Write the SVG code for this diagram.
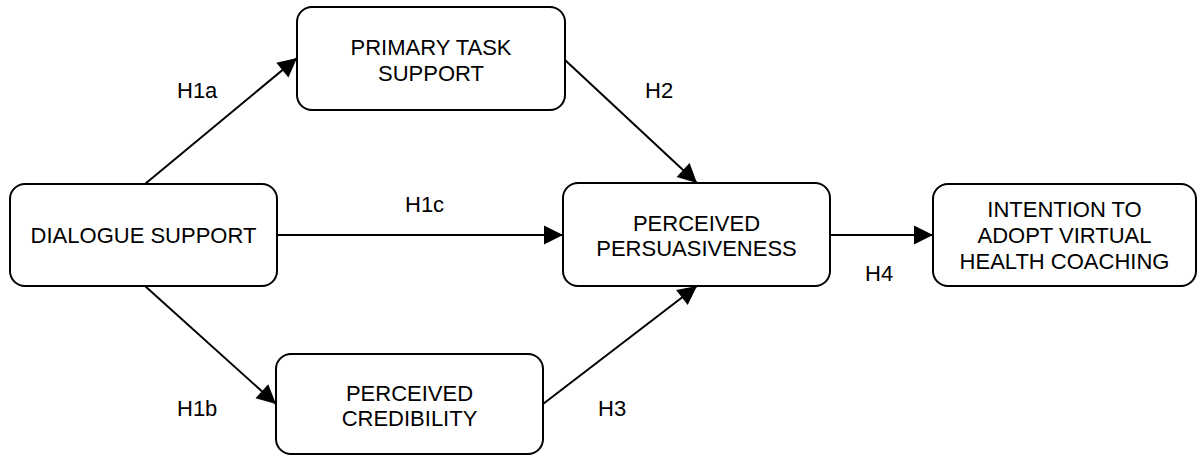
<svg xmlns="http://www.w3.org/2000/svg" width="1197" height="455" viewBox="0 0 1197 455">
<style>
.box{fill:#fff;stroke:#000;stroke-width:2}
.t{font-family:"Liberation Sans",Arial,sans-serif;font-size:22px;fill:#000}
.c{text-anchor:middle}
.e{fill:none;stroke:#000;stroke-width:2}
</style>
<defs>
<marker id="ah" markerUnits="userSpaceOnUse" markerWidth="22" markerHeight="22" viewBox="-20 -10 22 20" refX="0" refY="0" orient="auto">
<path d="M0,0 L-19,-9.5 L-19,9.5 Z" fill="#000"/>
</marker>
</defs>
<rect width="1197" height="455" fill="#fff"/>
<g id="connectors">
<line class="e" x1="145" y1="184" x2="297" y2="58" marker-end="url(#ah)"/>
<line class="e" x1="565" y1="60" x2="697" y2="183" marker-end="url(#ah)"/>
<line class="e" x1="277" y1="235" x2="563" y2="235" marker-end="url(#ah)"/>
<line class="e" x1="145" y1="286" x2="276" y2="404" marker-end="url(#ah)"/>
<line class="e" x1="543" y1="404" x2="697" y2="286" marker-end="url(#ah)"/>
<line class="e" x1="830" y1="235" x2="933" y2="235" marker-end="url(#ah)"/>
<text class="t" x="177" y="98">H1a</text>
<text class="t" x="177" y="416">H1b</text>
<text class="t" x="405" y="212">H1c</text>
<text class="t" x="645" y="98">H2</text>
<text class="t" x="598" y="416">H3</text>
<text class="t" x="865" y="281">H4</text>
</g>
<g id="dialogue">
<rect class="box" x="10" y="184" width="267" height="102" rx="15"/>
<text class="t c" x="143.5" y="243">DIALOGUE SUPPORT</text>
</g>
<g id="primary">
<rect class="box" x="297" y="7" width="268" height="103" rx="15"/>
<text class="t c" x="431" y="55">PRIMARY TASK</text>
<text class="t c" x="431" y="81">SUPPORT</text>
</g>
<g id="persuasiveness">
<rect class="box" x="563" y="183" width="267" height="103" rx="15"/>
<text class="t c" x="696.5" y="231">PERCEIVED</text>
<text class="t c" x="696.5" y="256">PERSUASIVENESS</text>
</g>
<g id="credibility">
<rect class="box" x="276" y="354" width="267" height="100" rx="15"/>
<text class="t c" x="409.5" y="401">PERCEIVED</text>
<text class="t c" x="409.5" y="426">CREDIBILITY</text>
</g>
<g id="intention">
<rect class="box" x="933" y="184" width="263" height="102" rx="15"/>
<text class="t c" x="1064.5" y="217">INTENTION TO</text>
<text class="t c" x="1064.5" y="243">ADOPT VIRTUAL</text>
<text class="t c" x="1064.5" y="269">HEALTH COACHING</text>
</g>
</svg>
